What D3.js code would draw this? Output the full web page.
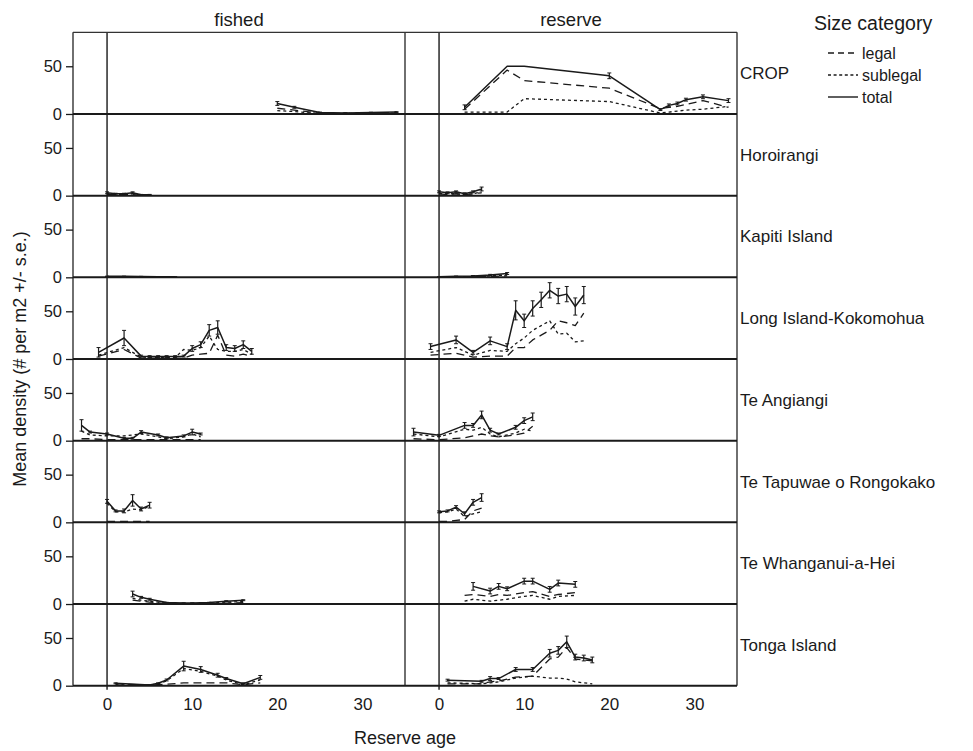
<!DOCTYPE html>
<html>
<head>
<meta charset="utf-8">
<script src="https://cdn.jsdelivr.net/npm/d3@7/dist/d3.min.js"></script>
<style>
  html, body { margin: 0; padding: 0; background: #fff; }
  svg { display: block; font-family: "Liberation Sans", Arial, Helvetica, sans-serif; }
</style>
</head>
<body>
<svg id="chart" width="973" height="751"></svg>
<script>
// ---------------- DATA ----------------
const rowLabels = ["CROP", "Horoirangi", "Kapiti Island", "Long Island-Kokomohua",
  "Te Angiangi", "Te Tapuwae o Rongokako", "Te Whanganui-a-Hei", "Tonga Island"];
const colLabels = ["fished", "reserve"];
const seriesNames = ["legal", "sublegal", "total"];
const yTickValues = [0, 50];
const xTickValues = [0, 10, 20, 30];

// each panel: age (reserve age), total mean, total s.e., legal mean, sublegal mean
const CROP_fished = { age: [20, 22, 25, 28, 31, 34],
  total: [11, 7, 1.5, 1, 1.5, 2], se: [2, 1, 0.5, 0.3, 0.3, 0.4],
  legal: [6, 4, 1, 0.5, 1, 1], sublegal: [3.5, 2.5, 0.5, 0.5, 0.5, 1] };
const CROP_reserve = { age: [3, 8, 10, 20, 26, 27, 28, 29, 31, 34],
  total: [7, 50, 50, 40, 4.6, 9, 11, 15, 18, 14], se: [2.5, 0, 0, 3, 1, 1.5, 1.5, 1.5, 2, 2],
  legal: [5, 46, 35, 27, 5.6, 7, 8, 10, 14, 7], sublegal: [2, 2, 16, 13, 1, 2, 3, 4, 5, 8] };

const Horo_fished = { age: [0, 1, 2, 3, 4, 5],
  total: [3, 2, 2, 3, 1, 1], se: [1, 0.5, 0.5, 1, 0.3, 0.3],
  legal: [1, 1, 1, 1, 0.5, 0.5], sublegal: [2, 1, 1, 2, 0.5, 0.5] };
const Horo_reserve = { age: [0, 1, 2, 3, 4, 5],
  total: [4, 3, 4, 2, 4, 7], se: [1, 1, 1, 1, 1, 2],
  legal: [2, 1, 2, 1, 2, 3], sublegal: [2, 2, 2, 1, 2, 4] };

const Kapiti_fished = { age: [0, 2, 4, 6, 8],
  total: [1, 1, 0.8, 0.6, 0.5], se: [0.2, 0.2, 0.2, 0.2, 0.2],
  legal: [0.3, 0.3, 0.3, 0.2, 0.2], sublegal: [0.7, 0.7, 0.5, 0.4, 0.3] };
const Kapiti_reserve = { age: [0, 2, 4, 6, 8],
  total: [0.5, 1, 1.5, 2.5, 4], se: [0.2, 0.3, 0.4, 0.6, 1],
  legal: [0.2, 0.4, 0.6, 1, 1.5], sublegal: [0.3, 0.6, 0.9, 1.5, 2.5] };

const LongIs_fished = { age: [-1, 2, 4, 5, 6, 7, 8, 9, 10, 11, 12, 13, 14, 15, 16, 17],
  total: [7, 22, 3, 2.5, 2.5, 2.5, 2.5, 3, 11, 15, 30, 33, 12, 11, 15, 8],
  se: [5, 8, 1, 1, 1, 1, 1, 1, 3, 3, 6, 7, 3, 3, 4, 3],
  legal: [3, 10, 1, 1, 1, 1, 1, 1, 4, 5, 6, 25, 4, 3, 5, 3],
  sublegal: [4, 12, 2, 1.5, 1.5, 1.5, 1.5, 10, 9, 12, 24, 10, 8, 8, 10, 5] };
const LongIs_reserve = { age: [-1, 2, 4, 6, 8, 9, 10, 11, 12, 13, 14, 15, 16, 17],
  total: [13, 20, 7, 19, 13, 51, 40, 53, 62, 72, 66, 68, 55, 67],
  se: [3, 4, 2, 4, 3, 10, 7, 8, 8, 8, 8, 8, 9, 9],
  legal: [4, 6, 2, 3, 3, 12, 12, 20, 25, 30, 40, 38, 35, 48],
  sublegal: [7, 12, 4, 9, 8, 16, 22, 30, 35, 40, 26, 27, 18, 19] };

const TeAng_fished = { age: [-3, -2, 0, 2, 3, 4, 6, 7, 9, 10, 11],
  total: [16, 9, 7, 2.5, 2.5, 9, 6, 3, 5, 9, 7],
  se: [6, 1, 1, 1, 1, 1.5, 1, 1, 1, 3, 1],
  legal: [2, 2, 1, 1, 1, 1, 1, 1, 1, 1, 1],
  sublegal: [10, 6, 5, 5, 6, 7, 4, 2, 4, 7, 4] };
const TeAng_reserve = { age: [-3, 0, 3, 4, 5, 6, 7, 9, 10, 11],
  total: [9, 5.6, 16, 16, 27, 11, 7, 14, 21, 25],
  se: [4, 1, 3, 2, 4, 2, 1, 2, 3, 4],
  legal: [2, 1, 3, 5, 7, 5, 4, 6, 8, 15],
  sublegal: [7, 4, 12, 11, 14, 7, 4, 8, 12, 10] };

const TeTap_fished = { age: [0, 1, 2, 3, 4, 5],
  total: [22, 12, 12, 23, 14, 18], se: [2, 1, 2, 6, 2, 3],
  legal: [1, 1, 1, 1, 1, 1], sublegal: [20, 11, 11, 14, 13, 17] };
const TeTap_reserve = { age: [0, 1, 2, 3, 4, 5],
  total: [11, 12, 16, 9, 21, 26], se: [1, 1, 1.5, 2, 3, 4],
  legal: [1, 1, 2, 3, 12, 15], sublegal: [10, 11, 14, 6, 9, 11] };

const TeWha_fished = { age: [3, 4, 5, 7, 9, 10, 12, 14, 16],
  total: [10.5, 7, 5, 1.5, 1, 1, 1.5, 3, 4], se: [3, 1, 1, 0.3, 0.3, 0.3, 0.3, 0.5, 0.5],
  legal: [4, 3, 2, 0.5, 0.5, 0.5, 0.5, 1, 1.5], sublegal: [6, 4, 3, 1, 0.5, 0.5, 1, 2, 2.5] };
const TeWha_reserve = { age: [3, 4, 6, 7, 8, 10, 11, 13, 14, 16],
  total: [null, 18.5, 13.6, 18.5, 16, 24, 24, 15.4, 22, 20.6],
  se: [0, 4, 3, 3, 2, 3, 3, 3, 3, 3],
  legal: [9, 10, 8, 10, 9, 12, 13, 8, 10, 12],
  sublegal: [3, 5, 3, 4, 5, 8, 9, 5, 8, 9] };

const Tonga_fished = { age: [1, 5, 6, 7, 9, 11, 13, 14, 16, 18],
  total: [2.5, 0.7, 2.5, 6, 20.6, 17, 11, 7.5, 2, 8.7], se: [0.5, 0.3, 0.5, 1, 5, 3, 2, 1, 1, 2],
  legal: [2, 0.5, 1, 1.5, 3, 3, 3, 3, 1, 3], sublegal: [1, 0.5, 2, 5, 18, 15, 10, 6, 1, 6] };
const Tonga_reserve = { age: [1, 5, 6, 7, 9, 11, 13, 14, 15, 16, 17, 18],
  total: [5.8, 4.6, 7.5, 7.5, 17, 17, 34, 37, 46, 30, 29, 27],
  se: [1, 1, 2, 1, 2, 2, 4, 4, 6, 3, 3, 3],
  legal: [2, 2, 4, 5, 9, 10, 28, 30, 40, 28, 27, 26],
  sublegal: [3, 2, 3, 4, 8, 10, 8, 8, 7, 4, 3, 2] };

const panelRows = [
  [CROP_fished, CROP_reserve], [Horo_fished, Horo_reserve], [Kapiti_fished, Kapiti_reserve],
  [LongIs_fished, LongIs_reserve], [TeAng_fished, TeAng_reserve], [TeTap_fished, TeTap_reserve],
  [TeWha_fished, TeWha_reserve], [Tonga_fished, Tonga_reserve]
];

// ---------------- LAYOUT ----------------
const svg = d3.select("#chart");
const W = 973, H = 751;
svg.append("rect").attr("width", W).attr("height", H).attr("fill", "#fff");

const plotTop = 32.3, plotBottom = 685.7;
const colX = [[73, 405], [405, 737]];
const nRows = rowLabels.length;
const rowH = (plotBottom - plotTop) / nRows;
const ink = "#1a1a1a";

const xScales = colX.map(r => d3.scaleLinear().domain([-4, 35]).range(r));
const yScaleFor = r => d3.scaleLinear().domain([0, 85.6]).range([plotTop + (r + 1) * rowH, plotTop + r * rowH]);

const dashes = { legal: "8,5", sublegal: "3,3", total: null };
const widths = { legal: 1.3, sublegal: 1.3, total: 1.5 };

const gData = svg.append("g");
panelRows.forEach((pair, r) => {
  const y = yScaleFor(r);
  pair.forEach((p, c) => {
    const x = xScales[c];
    const g = gData.append("g");
    ["sublegal", "legal", "total"].forEach(s => {
      const pts = p.age.map((a, i) => [a, p[s][i]]);
      const line = d3.line().defined(d => d[1] != null).x(d => x(d[0])).y(d => y(d[1]));
      g.append("path").attr("d", line(pts)).attr("fill", "none")
        .attr("stroke", ink).attr("stroke-width", widths[s])
        .attr("stroke-dasharray", dashes[s]).attr("stroke-linejoin", "round");
    });
    // error bars on total
    p.age.forEach((a, i) => {
      const v = p.total[i], e = p.se[i];
      if (v == null || !e) return;
      const xx = x(a);
      const lo = Math.max(0, v - e), hi = v + e;
      g.append("line").attr("x1", xx).attr("x2", xx).attr("y1", y(lo)).attr("y2", y(hi))
        .attr("stroke", ink).attr("stroke-width", 1.2);
      [lo, hi].forEach(vv => g.append("line").attr("x1", xx - 2).attr("x2", xx + 2)
        .attr("y1", y(vv)).attr("y2", y(vv)).attr("stroke", ink).attr("stroke-width", 1));
    });
  });
});

// frame
const gF = svg.append("g");
xScales.forEach(x => {
  gF.append("line").attr("x1", x(0)).attr("x2", x(0)).attr("y1", plotTop).attr("y2", plotBottom + 4)
    .attr("stroke", ink).attr("stroke-width", 1.4);
});
[73, 405, 737].forEach(xx => gF.append("line").attr("x1", xx).attr("x2", xx)
  .attr("y1", plotTop).attr("y2", plotBottom).attr("stroke", "#333").attr("stroke-width", 1.4));
gF.append("line").attr("x1", 73).attr("x2", 737).attr("y1", plotTop).attr("y2", plotTop)
  .attr("stroke", "#333").attr("stroke-width", 1.2);
d3.range(nRows).forEach(r => {
  const y = yScaleFor(r);
  gF.append("line").attr("x1", 73).attr("x2", 737).attr("y1", y(0)).attr("y2", y(0))
    .attr("stroke", ink).attr("stroke-width", 2);
  const ax = d3.axisLeft(y).tickValues(yTickValues).tickSize(7).tickPadding(4).tickFormat(d3.format("d"));
  const ga = svg.append("g").attr("transform", "translate(73,0)").call(ax);
  ga.select(".domain").remove();
  ga.selectAll(".tick line").attr("stroke", ink).attr("stroke-width", 1.3);
  ga.selectAll(".tick text").attr("font-size", 16.5).attr("fill", ink)
    .attr("font-family", "Liberation Sans, Arial, sans-serif");
  svg.append("text").attr("x", 740).attr("y", plotTop + (r + 0.5) * rowH + 6)
    .attr("font-size", 17).attr("fill", ink).text(rowLabels[r]);
});

xScales.forEach(x => {
  const ax = d3.axisBottom(x).tickValues(xTickValues).tickSize(0).tickPadding(12).tickFormat(d3.format("d"));
  const ga = svg.append("g").attr("transform", `translate(0,${plotBottom})`).call(ax);
  ga.select(".domain").remove();
  ga.selectAll(".tick text").attr("font-size", 17).attr("fill", ink)
    .attr("font-family", "Liberation Sans, Arial, sans-serif");
});

colLabels.forEach((lab, c) => {
  svg.append("text").attr("x", (colX[c][0] + colX[c][1]) / 2).attr("y", 26)
    .attr("text-anchor", "middle").attr("font-size", 18.5).attr("fill", ink).text(lab);
});

svg.append("text").attr("x", 405).attr("y", 744).attr("text-anchor", "middle")
  .attr("font-size", 18).attr("fill", ink).text("Reserve age");
svg.append("text").attr("transform", `translate(26,${(plotTop + plotBottom) / 2}) rotate(-90)`)
  .attr("text-anchor", "middle").attr("font-size", 18).attr("fill", ink)
  .text("Mean density (# per m2 +/- s.e.)");

svg.append("text").attr("x", 814).attr("y", 30).attr("font-size", 19.5).attr("fill", ink).text("Size category");
seriesNames.forEach((s, i) => {
  const yy = 53 + i * 22;
  svg.append("line").attr("x1", 828).attr("x2", 858).attr("y1", yy).attr("y2", yy)
    .attr("stroke", ink).attr("stroke-width", 1.4)
    .attr("stroke-dasharray", s === "legal" ? "6,4" : s === "sublegal" ? "3,2.6" : null);
  svg.append("text").attr("x", 862).attr("y", yy + 5.5).attr("font-size", 16).attr("fill", ink).text(s);
});
</script>
</body>
</html>
